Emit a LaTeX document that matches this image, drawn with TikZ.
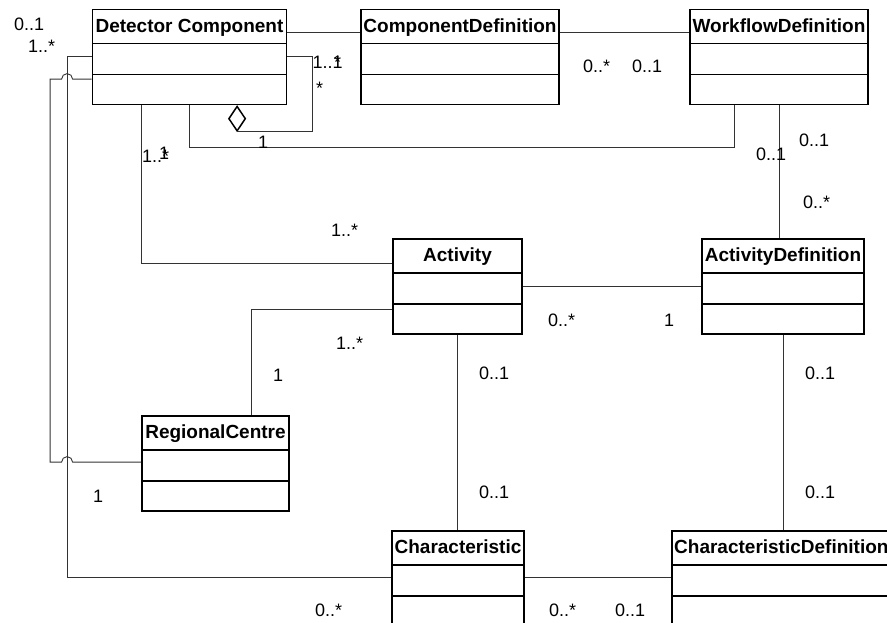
\documentclass[tikz,border=0pt]{standalone}
\usepackage{fontspec}
\setmainfont{Liberation Sans}
\usetikzlibrary{shapes.geometric,fit}

\tikzset{
  classbox/.style={draw=black, line width=1.8pt, inner sep=0pt, fill=none},
  divider/.style={draw=black, line width=1.8pt},
  classtitle/.style={font=\fontsize{19}{21}\bfseries\selectfont, inner sep=0pt, anchor=base},
  assoc/.style={draw=black!80, line width=0.9pt},
  mult/.style={font=\fontsize{18}{20}\selectfont, inner sep=0pt, anchor=base west},
  aggdiamond/.style={diamond, draw=black, line width=1.5pt, fill=white, inner sep=0pt,
    minimum width=17pt, minimum height=25pt, anchor=north},
}

% UML class: name, left, top, right, title (three compartments, height 95)
\newcommand\umlclass[5]{%
  \node[classbox, fit={(#2,#3) (#4,#3+95)}] (#1) {};
  \draw[divider] (#2,#3+34) -- (#4,#3+34);
  \draw[divider] (#2,#3+65) -- (#4,#3+65);
  \node[classtitle] (#1-title) at ({(#2+#4)/2},{#3+22.5}) {#5};
}

\begin{document}
\begin{tikzpicture}[x=1pt, y=-1pt]
  \useasboundingbox (0,0) rectangle (887,622);
  \clip (0,0) rectangle (887,622);
  \fill[white] (0,0) rectangle (887,622);

  % classes
  \umlclass{dc}{92.5}{9.5}{286.5}{Detector Component}
  \umlclass{cd}{361}{9.5}{559}{ComponentDefinition}
  \umlclass{wd}{690}{9.5}{868}{WorkflowDefinition}
  \umlclass{act}{393}{239}{522}{Activity}
  \umlclass{ad}{702}{239}{864}{ActivityDefinition}
  \umlclass{rc}{142}{416}{289}{RegionalCentre}
  \umlclass{ch}{392}{531}{524}{Characteristic}
  % the last class runs past the right edge
  \node[classbox, fit={(672,531) (894,626)}] (cdf) {};
  \draw[divider] (672,565) -- (894,565);
  \draw[divider] (672,596) -- (894,596);
  \node[classtitle, anchor=base west] (cdf-title) at (674,553.5) {CharacteristicDefinition};

  % aggregation diamond under Detector Component
  \node[aggdiamond] (agg) at ([xshift=145.5pt]dc.south west) {};

  % associations
  \draw[assoc] ([yshift=-23.5pt]dc.north east) -- ([yshift=-23.5pt]cd.north west);
  \draw[assoc] ([yshift=-23.5pt]cd.north east) -- ([yshift=-23.5pt]wd.north west);
  \draw[assoc] ([yshift=-47.5pt]dc.north east) -- ++(25.5,0) |- (agg.south);
  \draw[assoc] ([xshift=97.5pt]dc.south west) -- ++(0,42) -| ([xshift=45pt]wd.south west);
  \draw[assoc] (wd.south) -- (wd.south |- ad.north);
  \draw[assoc] ([xshift=49.5pt]dc.south west) |- ([yshift=-25pt]act.north west);
  \draw[assoc] ([yshift=-71pt]act.north west) -| ([xshift=110pt]rc.north west);
  \draw[assoc] ([yshift=-48pt]act.north east) -- ([yshift=-48pt]ad.north west);
  \draw[assoc] (act.south) -- (act.south |- ch.north);
  \draw[assoc] (ad.south) -- (ad.south |- cdf.north);
  \draw[assoc] ([yshift=-47pt]ch.north east) -- ([yshift=-47pt]cdf.north west);
  \draw[assoc] ([yshift=-47.5pt]dc.north west) -- ++(-24.5,0) |- ([yshift=-47pt]ch.north west);
  \draw[assoc] ([yshift=-70.5pt]dc.north west) -- ++(-19,0)
    arc[start angle=0, end angle=180, radius=5.5pt] -- ++(-11.5,0)
    -- ++(0,383) -- ++(11.5,0)
    arc[start angle=180, end angle=0, radius=5.5pt] -- ([yshift=-47pt]rc.north west);

  % multiplicities
  \node[mult] (m1) at (14,30.5) {0..1};
  \node[mult] (m2) at (28,52) {1..*};
  \node[mult] (m3) at (312.5,68) {1..1};
  \node[mult] (m4) at (334,68) {*};
  \node[mult] (m5) at (316,94) {*};
  \node[mult] (m6) at (142,162) {1..*};
  \node[mult] (m7) at (159,159) {1};
  \node[mult] (m8) at (258,148) {1};
  \node[mult] (m9) at (583,72.5) {0..*};
  \node[mult] (m10) at (632,72.5) {0..1};
  \node[mult] (m11) at (756,160) {0..1};
  \node[mult] (m12) at (799,146.5) {0..1};
  \node[mult] (m13) at (803,208) {0..*};
  \node[mult] (m14) at (331,236.5) {1..*};
  \node[mult] (m15) at (336,349) {1..*};
  \node[mult] (m16) at (273,381.5) {1};
  \node[mult] (m17) at (548,326.5) {0..*};
  \node[mult] (m18) at (664,326.5) {1};
  \node[mult] (m19) at (479,379) {0..1};
  \node[mult] (m20) at (479,498) {0..1};
  \node[mult] (m21) at (805,379) {0..1};
  \node[mult] (m22) at (805,498) {0..1};
  \node[mult] (m23) at (93,502.5) {1};
  \node[mult] (m24) at (315,616.5) {0..*};
  \node[mult] (m25) at (549,616.5) {0..*};
  \node[mult] (m26) at (615,616.5) {0..1};
\end{tikzpicture}
\end{document}
